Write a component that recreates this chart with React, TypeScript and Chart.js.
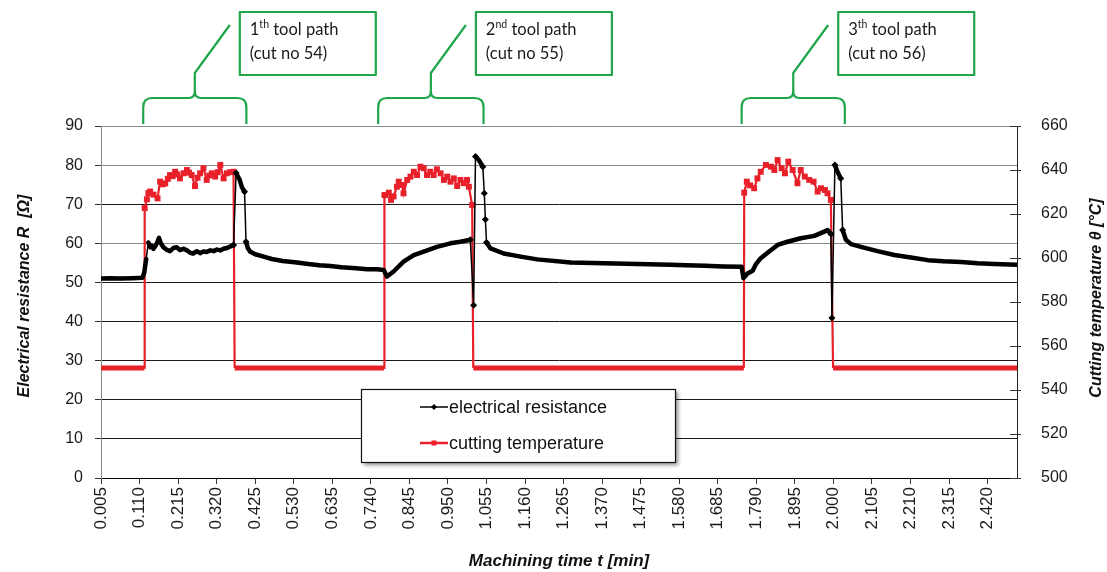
import { useEffect, useRef } from 'react';
import { Chart, registerables } from 'chart.js';

Chart.register(...registerables);

// x-axis tick labels (machining time, min)
const timeTicks = [
  0.005, 0.11, 0.215, 0.32, 0.425, 0.53, 0.635, 0.74, 0.845, 0.95, 1.055, 1.16,
  1.265, 1.37, 1.475, 1.58, 1.685, 1.79, 1.895, 2.0, 2.105, 2.21, 2.315, 2.42,
];

// electrical resistance R [Ω]
const resistanceTime = [
  0.005, 0.03, 0.06, 0.09, 0.118, 0.123, 0.128, 0.134, 0.139, 0.143, 0.148, 0.153,
  0.158, 0.163, 0.168, 0.175, 0.183, 0.193, 0.202, 0.211, 0.22, 0.23, 0.239, 0.248,
  0.256, 0.266, 0.275, 0.284, 0.293, 0.303, 0.312, 0.321, 0.33, 0.339, 0.348, 0.357,
  0.366, 0.373, 0.382, 0.389, 0.396, 0.4, 0.405, 0.411, 0.425, 0.448, 0.47, 0.5,
  0.539, 0.57, 0.6, 0.63, 0.66, 0.7, 0.73, 0.757, 0.775, 0.784, 0.802, 0.829,
  0.857, 0.884, 0.92, 0.957, 0.984, 1.011, 1.02, 1.025, 1.034, 1.045, 1.049, 1.052,
  1.055, 1.066, 1.102, 1.148, 1.193, 1.284, 1.375, 1.466, 1.557, 1.6, 1.65, 1.7,
  1.75, 1.755, 1.766, 1.78, 1.789, 1.802, 1.825, 1.848, 1.875, 1.911, 1.948, 1.975,
  1.984, 1.993, 1.996, 2.004, 2.011, 2.02, 2.025, 2.034, 2.048, 2.075, 2.12, 2.166,
  2.211, 2.257, 2.3, 2.348, 2.393, 2.438, 2.5,
];
const resistanceValue = [
  51.0, 51.1, 51.0, 51.1, 51.2, 52.6, 56.0, 60.2, 59.0, 59.4, 58.6, 59.3,
  60.2, 61.4, 60.0, 59.0, 58.4, 58.0, 58.8, 59.0, 58.3, 58.6, 58.2, 57.6,
  57.4, 58.0, 57.5, 57.9, 57.8, 58.2, 58.0, 58.4, 58.2, 58.6, 58.8, 59.2,
  59.6, 78.0, 76.4, 74.3, 73.2, 60.4, 58.8, 57.9, 57.2, 56.6, 56.0, 55.5,
  55.1, 54.7, 54.4, 54.2, 53.9, 53.6, 53.4, 53.4, 53.2, 51.5, 52.8, 55.3,
  57.0, 57.9, 59.1, 60.0, 60.4, 60.9, 44.2, 82.2, 81.3, 79.6, 72.8, 66.1,
  60.2, 58.7, 57.4, 56.6, 55.9, 55.1, 54.9, 54.7, 54.5, 54.4, 54.3, 54.1,
  54.0, 51.1, 52.3, 53.0, 54.7, 56.2, 57.9, 59.6, 60.4, 61.3, 61.9, 63.0,
  63.4, 62.4, 40.9, 80.0, 78.3, 76.6, 63.4, 60.9, 59.8, 59.1, 58.0, 57.0,
  56.4, 55.7, 55.4, 55.2, 54.9, 54.7, 54.5,
];

// cutting temperature θ [°C]
const temperatureTime = [
  0.005, 0.123, 0.124, 0.13, 0.134, 0.139, 0.148, 0.159, 0.166, 0.173, 0.18, 0.187,
  0.193, 0.2, 0.207, 0.213, 0.22, 0.23, 0.239, 0.245, 0.252, 0.261, 0.268, 0.275,
  0.284, 0.293, 0.3, 0.307, 0.316, 0.323, 0.33, 0.339, 0.348, 0.357, 0.366, 0.369,
  0.776, 0.777, 0.78, 0.789, 0.795, 0.802, 0.811, 0.816, 0.825, 0.829, 0.839, 0.848,
  0.857, 0.866, 0.875, 0.884, 0.893, 0.902, 0.911, 0.92, 0.93, 0.939, 0.948, 0.957,
  0.966, 0.975, 0.984, 0.993, 1.002, 1.007, 1.016, 1.019,
  1.756, 1.757, 1.764, 1.773, 1.784, 1.793, 1.802, 1.816, 1.83, 1.839, 1.848, 1.859,
  1.868, 1.877, 1.889, 1.902, 1.911, 1.922, 1.934, 1.946, 1.957, 1.966, 1.977, 1.984,
  1.993, 1.999, 2.5,
];
const temperatureValue = [
  550, 550, 622.7, 626.7, 629.5, 630.2, 628.8, 627.1, 634.7, 633.5, 633.9, 636.0,
  637.7, 637.2, 639.2, 638.0, 636.2, 638.5, 640.0, 638.8, 637.7, 632.7, 636.5, 638.5,
  640.8, 635.5, 637.5, 638.5, 637.0, 639.0, 642.3, 636.2, 638.5, 639.0, 639.2, 550,
  550, 628.6, 628.6, 629.7, 626.4, 628.0, 632.4, 634.7, 633.2, 629.4, 635.5, 637.0,
  639.2, 637.7, 641.5, 640.8, 637.7, 639.2, 637.7, 640.3, 638.5, 635.5, 637.0, 634.7,
  636.2, 632.7, 635.5, 634.0, 635.5, 632.4, 624.1, 550,
  550, 629.7, 634.7, 633.0, 631.7, 636.2, 639.2, 642.3, 641.5, 640.0, 644.5, 640.8,
  638.5, 643.8, 640.0, 634.0, 640.0, 637.0, 635.5, 634.7, 630.2, 631.7, 630.9, 629.4,
  626.4, 550, 550,
];

// tool path annotations
const toolPathStart = [0.12, 0.76, 1.75];
const toolPathEnd = [0.401, 1.047, 2.031];
const toolPathNumber = ['1', '2', '3'];
const toolPathSuffix = ['th', 'nd', 'th'];
const toolPathCut = ['54', '55', '56'];

const GREEN = '#1fa64b';
const BASE_TEMP = 550;

const decorPlugin = {
  id: 'decor',
  afterDraw(chart: any) {
    const ctx = chart.ctx as CanvasRenderingContext2D;
    const xs = chart.scales.x;
    const yR = chart.scales.y1;
    const area = chart.chartArea;

    // right axis tick marks crossing the axis
    ctx.save();
    ctx.strokeStyle = '#333';
    ctx.lineWidth = 1;
    yR.ticks.forEach((t: any) => {
      const py = Math.round(yR.getPixelForValue(t.value)) + 0.5;
      ctx.beginPath();
      ctx.moveTo(area.right - 7, py);
      ctx.lineTo(area.right + 4, py);
      ctx.stroke();
    });
    ctx.restore();

    // axis titles
    ctx.save();
    ctx.fillStyle = '#111';
    ctx.textAlign = 'center';
    ctx.textBaseline = 'middle';
    ctx.font = 'italic bold 17px "Liberation Sans", Arial, sans-serif';
    ctx.fillText('Machining time t [min]', (area.left + area.right) / 2, 561);
    ctx.font = 'italic bold 16px "Liberation Sans", Arial, sans-serif';
    ctx.save();
    ctx.translate(25, 296);
    ctx.rotate(-Math.PI / 2);
    ctx.fillText('Electrical resistance R  [Ω]', 0, 0);
    ctx.restore();
    ctx.save();
    ctx.translate(1097, 298);
    ctx.rotate(-Math.PI / 2);
    ctx.fillText('Cutting temperature θ [°C]', 0, 0);
    ctx.restore();
    ctx.restore();

    // legend box
    const lx = 361, ly = 389, lw = 314, lh = 73;
    ctx.save();
    ctx.shadowColor = 'rgba(0,0,0,0.45)';
    ctx.shadowBlur = 4;
    ctx.shadowOffsetX = 3;
    ctx.shadowOffsetY = 3;
    ctx.fillStyle = '#fff';
    ctx.fillRect(lx, ly, lw, lh);
    ctx.restore();
    ctx.save();
    ctx.strokeStyle = '#111';
    ctx.lineWidth = 1.2;
    ctx.strokeRect(lx + 0.5, ly + 0.5, lw, lh);
    const rows = [ly + 18, ly + 54];
    chart.data.datasets.forEach((ds: any, i: number) => {
      const cy = rows[i];
      ctx.strokeStyle = ds.borderColor;
      ctx.fillStyle = ds.borderColor;
      ctx.lineWidth = i === 0 ? 1.5 : 2.5;
      ctx.beginPath();
      ctx.moveTo(lx + 59, cy);
      ctx.lineTo(lx + 87, cy);
      ctx.stroke();
      ctx.beginPath();
      if (i === 0) {
        ctx.moveTo(lx + 73, cy - 3);
        ctx.lineTo(lx + 76, cy);
        ctx.lineTo(lx + 73, cy + 3);
        ctx.lineTo(lx + 70, cy);
        ctx.closePath();
      } else {
        ctx.rect(lx + 70.5, cy - 2.5, 5, 5);
      }
      ctx.fill();
      ctx.fillStyle = '#111';
      ctx.font = '18px "Liberation Sans", Arial, sans-serif';
      ctx.textAlign = 'left';
      ctx.textBaseline = 'middle';
      ctx.fillText(ds.label, lx + 88, cy + 1);
    });
    ctx.restore();

    // tool path braces and callouts
    ctx.save();
    ctx.strokeStyle = GREEN;
    ctx.lineWidth = 2.2;
    ctx.lineJoin = 'round';
    const topY = 98, endY = 124, r = 9;
    toolPathStart.forEach((s, i) => {
      const x1 = xs.getPixelForValue(s);
      const x2 = xs.getPixelForValue(toolPathEnd[i]);
      const c = (x1 + x2) / 2;
      ctx.beginPath();
      ctx.moveTo(x1, endY);
      ctx.lineTo(x1, topY + r);
      ctx.quadraticCurveTo(x1, topY, x1 + r, topY);
      ctx.lineTo(c - 6, topY);
      ctx.quadraticCurveTo(c, topY, c, topY - 7);
      ctx.quadraticCurveTo(c, topY, c + 6, topY);
      ctx.lineTo(x2 - r, topY);
      ctx.quadraticCurveTo(x2, topY, x2, topY + r);
      ctx.lineTo(x2, endY);
      ctx.stroke();
      ctx.beginPath();
      ctx.moveTo(c, topY - 7);
      ctx.lineTo(c, 73);
      ctx.lineTo(c + 35, 25);
      ctx.stroke();
      const bx = c + 45, by = 12;
      ctx.lineWidth = 2.2;
      ctx.strokeRect(bx, by, 136, 63);
      ctx.fillStyle = '#1a1a1a';
      ctx.textAlign = 'left';
      ctx.textBaseline = 'alphabetic';
      ctx.font = '16.5px Lato, "Open Sans", sans-serif';
      let tx = bx + 10;
      ctx.fillText(toolPathNumber[i], tx, by + 23);
      tx += ctx.measureText(toolPathNumber[i]).width;
      ctx.font = '10.5px Lato, "Open Sans", sans-serif';
      ctx.fillText(toolPathSuffix[i], tx, by + 16);
      tx += ctx.measureText(toolPathSuffix[i]).width;
      ctx.font = '16.5px Lato, "Open Sans", sans-serif';
      ctx.fillText(' tool path', tx, by + 23);
      ctx.fillText('(cut no ' + toolPathCut[i] + ')', bx + 10, by + 47);
    });
    ctx.restore();
  },
};

export default function App() {
  const canvasRef = useRef<HTMLCanvasElement | null>(null);

  useEffect(() => {
    if (!canvasRef.current) return;
    const steep = (ctx: any) =>
      Math.abs(ctx.p1.y - ctx.p0.y) > 14 && Math.abs(ctx.p1.y - ctx.p0.y) > 2 * Math.abs(ctx.p1.x - ctx.p0.x);
    const nearJump = (i: number) => {
      const v = resistanceValue[i];
      const prev = i > 0 ? resistanceValue[i - 1] : v;
      const next = i < resistanceValue.length - 1 ? resistanceValue[i + 1] : v;
      return Math.abs(v - prev) > 5 || Math.abs(v - next) > 5;
    };

    const chart = new Chart(canvasRef.current, {
      type: 'line',
      data: {
        datasets: [
          {
            label: 'electrical resistance',
            data: resistanceTime.map((t, i) => ({ x: t, y: resistanceValue[i] })),
            yAxisID: 'y',
            borderColor: '#000',
            backgroundColor: '#000',
            borderWidth: 4.5,
            borderJoinStyle: 'round',
            borderCapStyle: 'round',
            pointStyle: 'rectRot',
            pointRadius: (ctx: any) => (nearJump(ctx.dataIndex) ? 3.5 : 2.2),
            pointBorderWidth: 0,
            tension: 0,
            segment: {
              borderWidth: (ctx: any) => (steep(ctx) ? 1.5 : 4.5),
            },
          } as any,
          {
            label: 'cutting temperature',
            data: temperatureTime.map((t, i) => ({ x: t, y: temperatureValue[i] })),
            yAxisID: 'y1',
            borderColor: '#e8202a',
            backgroundColor: '#e8202a',
            borderWidth: 2,
            pointStyle: 'rect',
            pointRadius: (ctx: any) => (temperatureValue[ctx.dataIndex] === BASE_TEMP ? 0 : 4.2),
            pointBorderWidth: 0,
            tension: 0,
            segment: {
              borderWidth: (ctx: any) =>
                temperatureValue[ctx.p0DataIndex] === BASE_TEMP && temperatureValue[ctx.p1DataIndex] === BASE_TEMP ? 5 : 2.2,
            },
          } as any,
        ],
      },
      options: {
        animation: false,
        responsive: false,
        devicePixelRatio: 1,
        layout: { padding: { top: 126, left: 0, right: 0, bottom: 0 } },
        plugins: {
          legend: { display: false },
          tooltip: { enabled: false },
          title: { display: false },
        },
        scales: {
          x: {
            type: 'linear',
            min: 0.005,
            max: 2.5,
            afterBuildTicks: (scale: any) => {
              scale.ticks = timeTicks.map((v) => ({ value: v }));
            },
            afterFit: (scale: any) => {
              scale.height = 94;
            },
            ticks: {
              autoSkip: false,
              minRotation: 90,
              maxRotation: 90,
              padding: 3,
              color: '#1a1a1a',
              font: { family: '"Liberation Sans", Arial, sans-serif', size: 17 },
              callback: (v: any) => Number(v).toFixed(3),
            },
            grid: {
              display: true,
              drawOnChartArea: false,
              drawTicks: true,
              tickLength: 6,
              color: '#333',
            },
            border: { display: true, color: '#000', width: 1 },
          },
          y: {
            type: 'linear',
            position: 'left',
            min: 0,
            max: 90,
            afterFit: (scale: any) => {
              scale.width = 101;
            },
            ticks: {
              stepSize: 10,
              padding: 12,
              color: '#1a1a1a',
              font: { family: '"Liberation Sans", Arial, sans-serif', size: 16 },
            },
            grid: {
              drawTicks: true,
              tickLength: 6,
              tickColor: '#333',
              color: (ctx: any) => {
                const v = ctx.tick ? ctx.tick.value : 0;
                return v === 90 || v === 80 || v === 60 ? '#8a8a8a' : '#1a1a1a';
              },
              lineWidth: 1,
            },
            border: { display: true, color: '#8a8a8a', width: 1 },
          },
          y1: {
            type: 'linear',
            position: 'right',
            min: 500,
            max: 660,
            afterFit: (scale: any) => {
              scale.width = 90;
            },
            ticks: {
              stepSize: 20,
              padding: 24,
              color: '#1a1a1a',
              font: { family: '"Liberation Sans", Arial, sans-serif', size: 16 },
            },
            grid: { drawOnChartArea: false, drawTicks: false },
            border: { display: true, color: '#222', width: 1 },
          },
        },
      } as any,
      plugins: [decorPlugin],
    });
    return () => chart.destroy();
  }, []);

  return (
    <div style={{ position: 'fixed', left: 0, top: 0, width: 1107, height: 572, background: '#fff' }}>
      <canvas ref={canvasRef} width={1107} height={572} style={{ display: 'block' }} />
    </div>
  );
}
